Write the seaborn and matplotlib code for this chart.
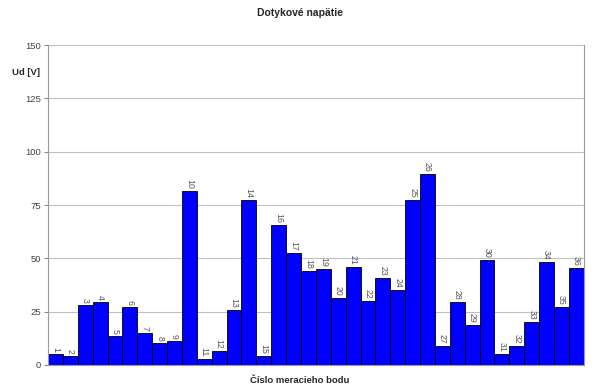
import numpy as np
import pandas as pd
import seaborn as sns
import matplotlib.pyplot as plt

sns.set_style("white")
plt.rcParams['font.family'] = ['Liberation Sans', 'DejaVu Sans']

points = [str(i) for i in range(1, 37)]
voltages = [5.3, 4.2, 28.0, 29.7, 13.8, 27.0, 15.0, 10.5, 11.3, 81.7,
            3.0, 6.7, 25.9, 77.5, 4.4, 65.6, 52.5, 43.9, 44.8, 31.6,
            45.8, 30.0, 40.9, 35.3, 77.3, 89.4, 9.1, 29.5, 18.6, 49.4,
            5.3, 8.8, 20.3, 48.3, 27.0, 45.6]
y_ticks = [0, 25, 50, 75, 100, 125, 150]

df = pd.DataFrame({"bod": points, "Ud": voltages})

fig = plt.figure(figsize=(6, 3.92), dpi=100)
ax = fig.add_axes([0.08, 0.069, 0.893, 0.816])

sns.barplot(data=df, x="bod", y="Ud", color="#0000FF", width=1.0,
            edgecolor="black", linewidth=0.6, saturation=1, ax=ax)

for i, v in enumerate(voltages):
    ax.text(i, v + 1.0, points[i], rotation=-90, ha="center", va="bottom",
            fontsize=6.3, color="#555555")

ax.set_ylim(0, 150)
ax.set_xlim(-0.5, len(points) - 0.5)
ax.set_yticks(y_ticks)
ax.set_yticklabels([str(t) for t in y_ticks], fontsize=6.8, color="#444444")
ax.set_xticks([])
ax.yaxis.grid(True, color="#c0c0c0", linewidth=0.8)
ax.set_axisbelow(True)
ax.tick_params(axis="y", left=True, length=3, width=0.8, color="#888888", pad=2)
for s in ax.spines.values():
    s.set_color("#999999")
    s.set_linewidth(0.8)
ax.spines["top"].set_visible(False)

ax.set_xlabel("")
ax.set_ylabel("")
fig.text(0.5, 0.968, "Dotykové napätie", ha="center", va="center",
         fontsize=7.5, fontweight="bold")
fig.text(0.02, 0.815, "Ud [V]", ha="left", va="center", fontsize=6.8,
         fontweight="bold")
fig.text(0.5, 0.029, "Číslo meracieho bodu", ha="center", va="center",
         fontsize=6.8, fontweight="bold")

fig.savefig("out.png", dpi=100)
